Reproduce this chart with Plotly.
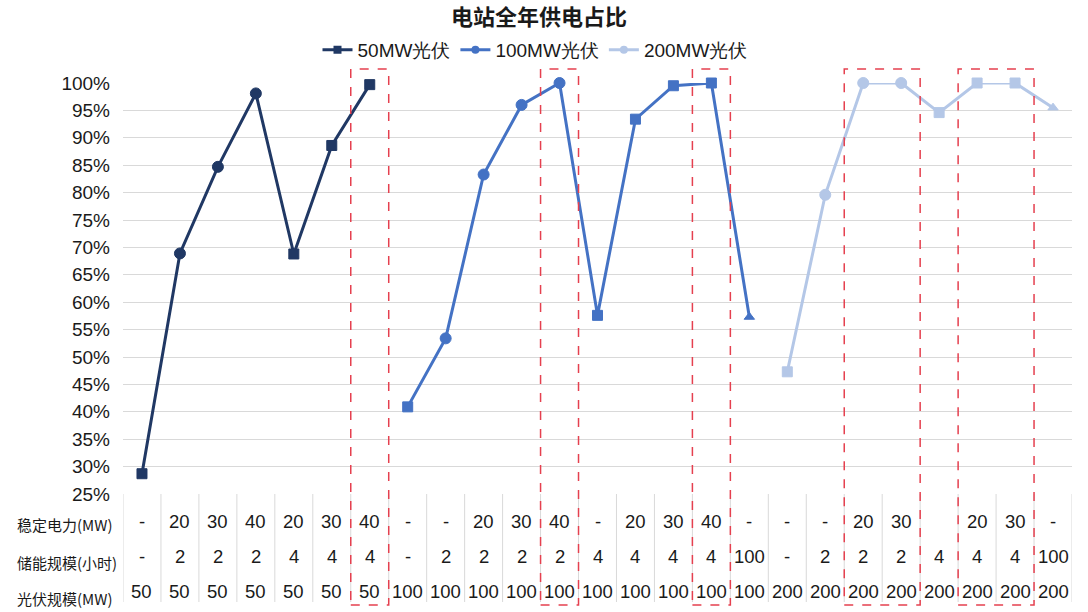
import plotly.graph_objects as go

# ---- data -------------------------------------------------------------
series_names = ["50MW光伏", "100MW光伏", "200MW光伏"]

# share of annual supply (%) for each configuration, one list per PV size
share_50 = [28.7, 68.9, 84.7, 98.1, 68.8, 88.6, 99.7]
share_100 = [40.9, 53.4, 83.3, 96.0, 100.0, 57.6, 93.4, 99.5, 100.0, 57.3]
share_200 = [47.3, 79.6, 100.0, 100.0, 94.6, 100.0, 100.0, 95.5]

# table rows under the axis
row_firm = ["-", "20", "30", "40", "20", "30", "40",
            "-", "-", "20", "30", "40", "-", "20", "30", "40", "-",
            "-", "-", "20", "30", "", "20", "30", "-"]
row_storage = ["-", "2", "2", "2", "4", "4", "4",
               "-", "2", "2", "2", "2", "4", "4", "4", "4", "100",
               "-", "2", "2", "2", "4", "4", "4", "100"]
row_pv = ["50"] * 7 + ["100"] * 10 + ["200"] * 8
row_labels = ["稳定电力(MW)", "储能规模(小时)", "光伏规模(MW)"]

y_ticks = list(range(25, 101, 5))

# highlighted column groups (first, last)
highlight_cols = [(6, 6), (11, 11), (15, 15), (19, 20), (22, 23)]

# ---- styling ----------------------------------------------------------
colors = ["#203864", "#4472C4", "#B4C7E7"]
grid_color = "#D9D9D9"
text_color = "#1A1A1A"
red = "#E5404F"
num_font = "Liberation Sans, Arial, sans-serif"
cjk_font = "Noto Sans CJK SC, sans-serif"

W, H = 1088, 612
plot_left, plot_right = 123, 1072
plot_top, plot_bottom = 83, 494
plot_h = plot_bottom - plot_top


def py(pix):
    """pixel row -> paper y coordinate"""
    return (plot_bottom - pix) / plot_h


def symbol_for(hours):
    if hours == "2":
        return "circle"
    if hours == "100":
        return "triangle-up"
    return "square"


def marker_size(sym):
    return {"circle": 11, "square": 10, "triangle-up": 9}[sym]


fig = go.Figure()

start = 0
for name, vals, col in zip(series_names, [share_50, share_100, share_200], colors):
    xs = list(range(start, start + len(vals)))
    syms = [symbol_for(row_storage[i]) for i in xs]
    fig.add_trace(go.Scatter(
        x=xs, y=vals, mode="lines+markers", name=name, showlegend=False,
        line=dict(color=col, width=3),
        marker=dict(color=col, symbol=syms, size=[marker_size(s) for s in syms],
                    opacity=1, line=dict(width=1, color=col)),
        cliponaxis=False,
    ))
    start += len(vals)

# legend entries
for name, col, sym in zip(series_names, colors, ["square", "circle", "circle"]):
    fig.add_trace(go.Scatter(
        x=[None], y=[None], mode="lines+markers", name=name,
        line=dict(color=col, width=3),
        marker=dict(color=col, symbol=sym, size=8, opacity=1, line=dict(width=0)),
    ))

n_cols = len(row_pv)
shapes = []
annotations = []

# table grid: vertical separators
for k in range(n_cols + 1):
    shapes.append(dict(type="line", xref="x", yref="paper",
                       x0=k - 0.5, x1=k - 0.5, y0=py(494), y1=py(602),
                       line=dict(color=grid_color, width=1)))

# table values
for row, ypix in zip([row_firm, row_storage, row_pv], [521, 556, 591]):
    for i, t in enumerate(row):
        if t == "":
            continue
        annotations.append(dict(
            x=i, y=py(ypix), xref="x", yref="paper", text=t, showarrow=False,
            xanchor="center", yanchor="middle",
            font=dict(family=num_font, size=18.5, color=text_color)))

# row captions
for lab, ypix in zip(row_labels, [524, 562, 598]):
    annotations.append(dict(
        x=(15 - plot_left) / (plot_right - plot_left), y=py(ypix),
        xref="paper", yref="paper", text=lab, showarrow=False,
        xanchor="left", yanchor="middle",
        font=dict(family=cjk_font, size=15, color=text_color)))

# red dashed highlight frames
for a, b in highlight_cols:
    shapes.append(dict(type="rect", xref="x", yref="paper",
                       x0=a - 0.5, x1=b + 0.5, y0=py(605), y1=py(69),
                       line=dict(color=red, width=1.5, dash="dash")))

fig.update_layout(
    width=W, height=H,
    margin=dict(l=plot_left, r=W - plot_right, t=plot_top, b=H - plot_bottom,
                autoexpand=False),
    paper_bgcolor="white", plot_bgcolor="white",
    title=dict(text="<b>电站全年供电占比</b>", x=539 / W, xref="container",
               xanchor="center", y=1 - 17 / H, yref="container", yanchor="middle",
               font=dict(family=cjk_font, size=22, color=text_color)),
    legend=dict(orientation="h", x=(535 - plot_left) / (plot_right - plot_left),
                xanchor="center", y=1 - 50 / H, yref="container", yanchor="middle",
                font=dict(family=num_font, size=19, color=text_color),
                bgcolor="rgba(0,0,0,0)"),
    xaxis=dict(range=[-0.5, n_cols - 0.5], showgrid=False, zeroline=False,
               showticklabels=False, showline=False, fixedrange=True),
    yaxis=dict(range=[25, 100], tickvals=y_ticks, ticktext=[f"{v}%" for v in y_ticks],
               showgrid=True, gridcolor=grid_color, gridwidth=1.2, zeroline=False,
               showline=False, ticks="", ticklabelstandoff=12,
               tickfont=dict(family=num_font, size=19, color=text_color)),
    shapes=shapes,
    annotations=annotations,
)

fig.write_html("out.html")
